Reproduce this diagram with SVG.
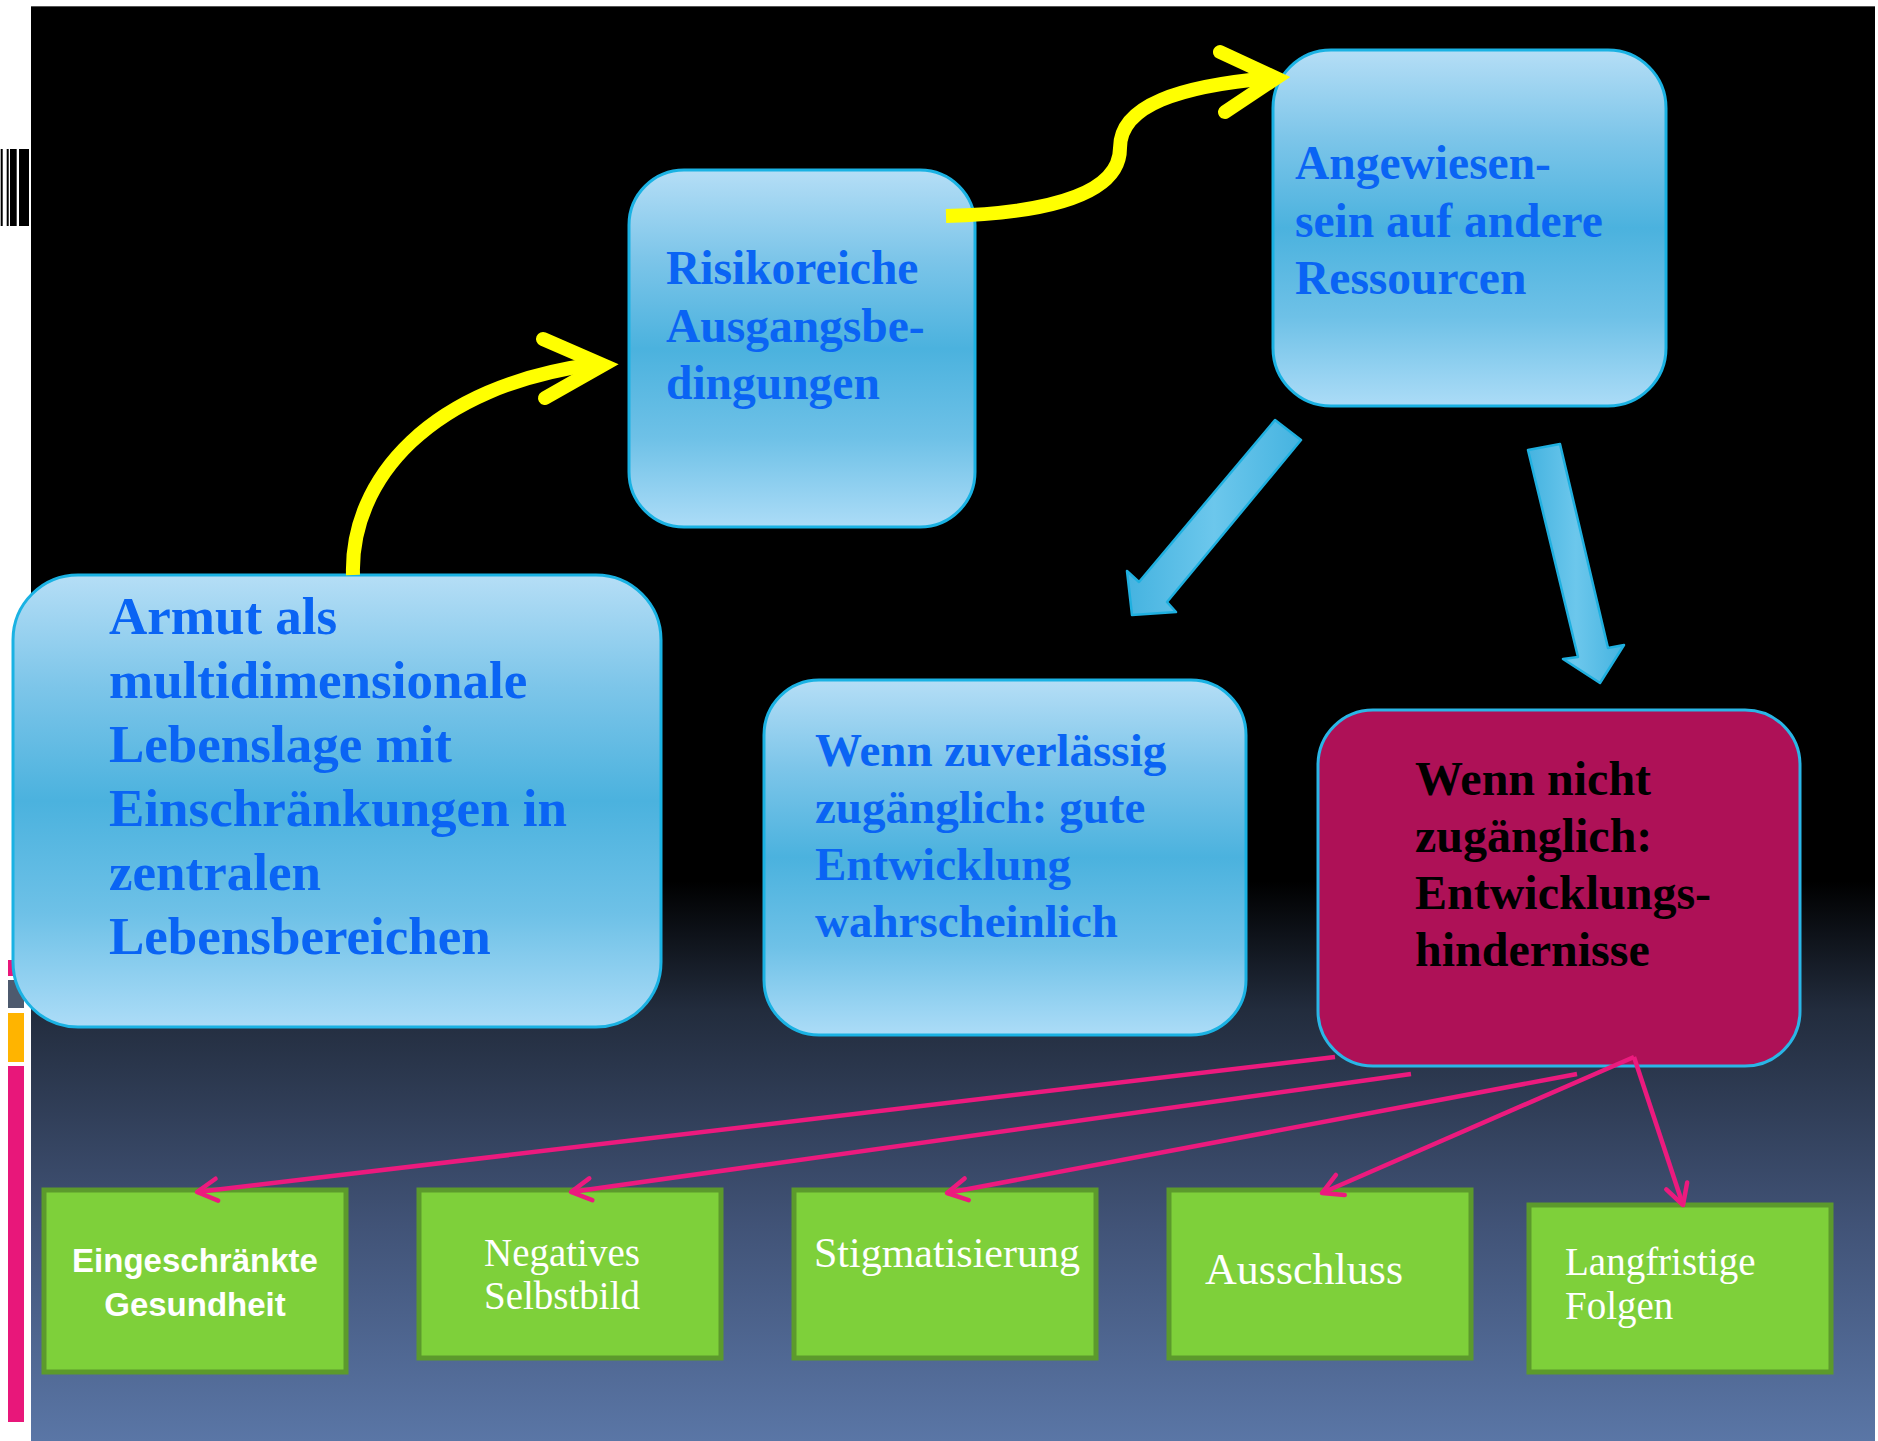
<svg xmlns="http://www.w3.org/2000/svg" width="1878" height="1441" viewBox="0 0 1878 1441">
<defs>
<linearGradient id="bg" x1="0" y1="6" x2="0" y2="1441" gradientUnits="userSpaceOnUse">
<stop offset="0" stop-color="#000000"/>
<stop offset="0.61" stop-color="#000000"/>
<stop offset="0.70" stop-color="#222c3d"/>
<stop offset="0.85" stop-color="#415377"/>
<stop offset="1" stop-color="#5a76a6"/>
</linearGradient>
<linearGradient id="boxg" x1="0" y1="0" x2="0" y2="1">
<stop offset="0" stop-color="#b5def6"/>
<stop offset="0.25" stop-color="#7cc5e9"/>
<stop offset="0.5" stop-color="#4bb2de"/>
<stop offset="0.75" stop-color="#6ec1e7"/>
<stop offset="1" stop-color="#acdcf7"/>
</linearGradient>
<linearGradient id="arrg" x1="0" y1="0" x2="1" y2="0">
<stop offset="0" stop-color="#45b3e0"/>
<stop offset="0.5" stop-color="#6cc7ec"/>
<stop offset="1" stop-color="#45b3e0"/>
</linearGradient>
<marker id="pk" markerUnits="userSpaceOnUse" markerWidth="40" markerHeight="40" refX="0" refY="0" orient="auto" overflow="visible">
<path d="M -20 -11 L 0 0 L -20 11" fill="none" stroke="#ec1a7e" stroke-width="4.5" stroke-linecap="round" stroke-linejoin="round"/>
</marker>
</defs>
<style>
.bx{fill:url(#boxg);stroke:#1ab2e3;stroke-width:3}
.mg{fill:#ae1157;stroke:#2ab6e6;stroke-width:3}
.gr{fill:#7ed03a;stroke:#5c9a2c;stroke-width:5}
.bt{font-family:"Liberation Serif",serif;font-weight:bold;fill:#0a64f4}
.kt{font-family:"Liberation Serif",serif;font-weight:bold;fill:#000000;font-size:48px}
.wt{font-family:"Liberation Serif",serif;fill:#ffffff}
.ws{font-family:"Liberation Sans",sans-serif;font-weight:bold;fill:#ffffff;font-size:33px}
.yl{fill:none;stroke:#ffff00;stroke-width:14}
.pl{fill:none;stroke:#ec1a7e;stroke-width:4.5;marker-end:url(#pk)}
.ba{fill:url(#arrg);stroke:#1fb0e0;stroke-width:2.5;stroke-linejoin:round}
</style>
<rect x="0" y="0" width="1878" height="1441" fill="#ffffff"/>
<rect x="31" y="6" width="1844" height="1435" fill="url(#bg)"/>
<line x1="31" y1="6.5" x2="1875" y2="6.5" stroke="#555555" stroke-width="1"/>
<g id="decor" fill="#000000">
<rect x="0.7" y="149" width="2" height="77"/>
<rect x="6.7" y="149" width="2" height="77"/>
<rect x="10" y="149" width="6.7" height="77"/>
<rect x="19" y="149" width="10" height="77"/>
<rect x="8" y="960" width="16" height="16" fill="#e8177a"/>
<rect x="8" y="980" width="16" height="28" fill="#4d5a6e"/>
<rect x="8" y="1013" width="16" height="49" fill="#ffb400"/>
<rect x="8" y="1066" width="16" height="356" fill="#e8177a"/>
</g>
<g id="n1">
<rect class="bx" x="13" y="575" width="648" height="452" rx="65" ry="65"/>
<text class="bt" font-size="53"><tspan x="109" y="634">Armut als</tspan><tspan x="109" y="698">multidimensionale</tspan><tspan x="109" y="762">Lebenslage mit</tspan><tspan x="109" y="826">Einschränkungen in</tspan><tspan x="109" y="890">zentralen</tspan><tspan x="109" y="954">Lebensbereichen</tspan></text>
</g>
<g id="n2">
<rect class="bx" x="629" y="170" width="346" height="357" rx="55" ry="55"/>
<text class="bt" font-size="47.5"><tspan x="666" y="284">Risikoreiche</tspan><tspan x="666" y="342">Ausgangsbe-</tspan><tspan x="666" y="399">dingungen</tspan></text>
</g>
<g id="n3">
<rect class="bx" x="1273" y="50" width="393" height="356" rx="58" ry="58"/>
<text class="bt" font-size="47.5"><tspan x="1295" y="179">Angewiesen-</tspan><tspan x="1295" y="237">sein auf andere</tspan><tspan x="1295" y="294">Ressourcen</tspan></text>
</g>
<g id="n4">
<rect class="bx" x="764" y="680" width="482" height="355" rx="55" ry="55"/>
<text class="bt" font-size="47"><tspan x="815" y="766">Wenn zuverlässig</tspan><tspan x="815" y="823">zugänglich: gute</tspan><tspan x="815" y="880">Entwicklung</tspan><tspan x="815" y="937">wahrscheinlich</tspan></text>
</g>
<g id="n5">
<rect class="mg" x="1318" y="710" width="482" height="356" rx="55" ry="55"/>
<text class="kt"><tspan x="1415" y="795">Wenn nicht</tspan><tspan x="1415" y="852">zugänglich:</tspan><tspan x="1415" y="909">Entwicklungs-</tspan><tspan x="1415" y="966">hindernisse</tspan></text>
</g>
<g id="g1">
<rect class="gr" x="44" y="1190" width="302" height="182"/>
<text class="ws" text-anchor="middle"><tspan x="195" y="1272">Eingeschränkte</tspan><tspan x="195" y="1316">Gesundheit</tspan></text>
</g>
<g id="g2">
<rect class="gr" x="419" y="1190" width="302" height="168"/>
<text class="wt" font-size="39"><tspan x="484" y="1266">Negatives</tspan><tspan x="484" y="1309">Selbstbild</tspan></text>
</g>
<g id="g3">
<rect class="gr" x="794" y="1190" width="302" height="168"/>
<text class="wt" font-size="42" x="814" y="1267">Stigmatisierung</text>
</g>
<g id="g4">
<rect class="gr" x="1169" y="1190" width="302" height="168"/>
<text class="wt" font-size="44" x="1205" y="1284">Ausschluss</text>
</g>
<g id="g5">
<rect class="gr" x="1529" y="1205" width="302" height="167"/>
<text class="wt" font-size="39"><tspan x="1565" y="1275">Langfristige</tspan><tspan x="1565" y="1319">Folgen</tspan></text>
</g>
<g id="connectors">
<path class="yl" d="M 353 575 C 350 480, 430 385, 597 364"/>
<path class="yl" d="M 543 339 L 603 365 L 545 398" stroke-linecap="round" stroke-linejoin="miter"/>
<path class="yl" d="M 946 216 C 1060 213, 1120 190, 1120 148 C 1120 105, 1180 86, 1270 78"/>
<path class="yl" d="M 1220 52 L 1276 78 L 1225 112" stroke-linecap="round" stroke-linejoin="miter"/>
<polygon class="ba" points="1275,420 1301,440 1167,602 1176,612 1132,615 1127,571 1139,582"/>
<polygon class="ba" points="1528,450 1560,444 1608,648 1624,645 1600,683 1563,659 1578,657"/>
<line class="pl" x1="1335" y1="1057" x2="197" y2="1192"/>
<line class="pl" x1="1411" y1="1074" x2="571" y2="1192"/>
<line class="pl" x1="1577" y1="1074" x2="947" y2="1193"/>
<line class="pl" x1="1634" y1="1057" x2="1322" y2="1193"/>
<line class="pl" x1="1634" y1="1057" x2="1683" y2="1205"/>
</g>
</svg>
